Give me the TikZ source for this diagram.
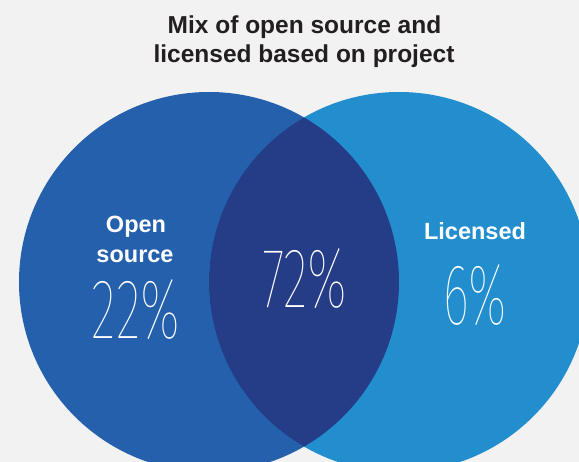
\documentclass[tikz,border=0pt]{standalone}
\usepackage{fontspec}
\usepackage{graphicx}
\setmainfont{Liberation Sans}
\IfFontExistsTF{Fira Sans Thin}{\newfontfamily\thinfont{Fira Sans Thin}\def\whichfont{FT}}{%
 \IfFontExistsTF{Fira Sans ExtraLight}{\newfontfamily\thinfont{Fira Sans ExtraLight}\def\whichfont{FE}}{%
  \IfFontExistsTF{Fira Sans Light}{\newfontfamily\thinfont{Fira Sans Light}\def\whichfont{FL}}{%
   \IfFontExistsTF{Lato Hairline}{\newfontfamily\thinfont{Lato Hairline}\def\whichfont{LH}}{%
    \IfFontExistsTF{Lato Light}{\newfontfamily\thinfont{Lato Light}\def\whichfont{LL}}{%
     \IfFontExistsTF{Poppins Thin}{\newfontfamily\thinfont{Poppins Thin}\def\whichfont{PT}}{%
      \IfFontExistsTF{Open Sans Light}{\newfontfamily\thinfont{Open Sans Light}\def\whichfont{OL}}{%
       \IfFontExistsTF{DejaVu Sans ExtraLight}{\newfontfamily\thinfont{DejaVu Sans ExtraLight}\def\whichfont{DE}}{%
        \newfontfamily\thinfont{Liberation Sans}\def\whichfont{LS}}}}}}}}}
\definecolor{bgcol}{HTML}{F2F2F2}
\definecolor{leftcol}{HTML}{2460AC}
\definecolor{rightcol}{HTML}{228ECE}
\definecolor{midcol}{HTML}{253D87}
\definecolor{titlecol}{HTML}{231F20}
\tikzset{
  titletext/.style={text=titlecol, font=\bfseries\fontsize{24.5}{29}\selectfont, anchor=base, inner sep=0pt},
  lbl/.style={text=white, font=\bfseries\fontsize{23.5}{28}\selectfont, anchor=base, inner sep=0pt},
  num/.style={text=white, font=\thinfont\fontsize{60}{60}\selectfont, anchor=base, inner sep=0pt}
}
\begin{document}
\begin{tikzpicture}[x=1pt,y=-1pt]
\useasboundingbox (0,0) rectangle (579,462);
\fill[bgcol] (0,0) rectangle (579,462);
\begin{scope}
  \clip (0,0) rectangle (579,462);
  \fill[leftcol] (209,282) circle[radius=190];
  \fill[rightcol] (399,282) circle[radius=190];
  \begin{scope}
    \clip (209,282) circle[radius=190];
    \fill[midcol] (399,282) circle[radius=190];
  \end{scope}
\end{scope}
\node[titletext] (title1) at (304.5,34) {Mix of open source and};
\node[titletext] (title2) at (304,63) {licensed based on project};
\node[lbl] (open) at (136,233) {Open};
\node[lbl] (source) at (135,263) {source};
\node[lbl] (licensed) at (475,240) {Licensed};
\node[num] (p22) at (136,339) {\resizebox{88pt}{59pt}{22\%}};
\node[num] (p72) at (304.5,308) {\resizebox{85pt}{59pt}{72\%}};
\node[num] (p6) at (475,325) {\resizebox{64pt}{60pt}{6\%}};
\end{tikzpicture}
\end{document}
